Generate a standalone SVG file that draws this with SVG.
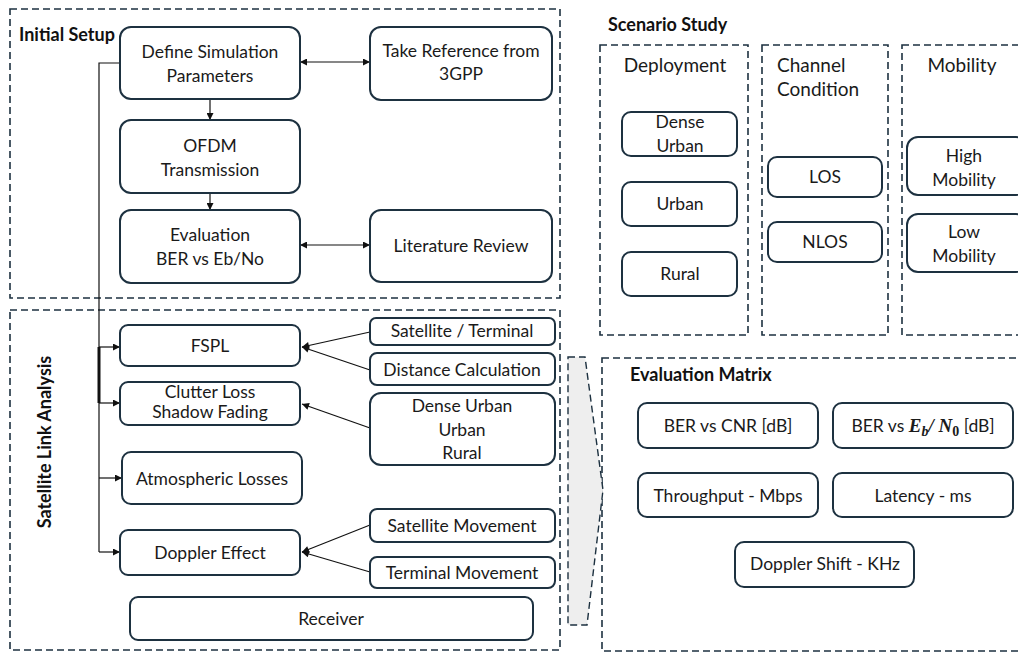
<svg xmlns="http://www.w3.org/2000/svg" width="1018" height="653" viewBox="0 0 1018 653">
<defs>
<style>
.bx{fill:#fff;stroke:#1d3140;stroke-width:2}
.dash{fill:none;stroke:#1d3140;stroke-width:1.6;stroke-dasharray:7 4}
.t{font-family:Lato,"Open Sans","Liberation Sans",sans-serif;font-size:17.5px;fill:#1a1a1a;text-anchor:middle}
.tl{font-family:Lato,"Open Sans","Liberation Sans",sans-serif;font-size:19px;fill:#1a1a1a}
.h{font-family:Lato,"Open Sans","Liberation Sans",sans-serif;font-size:18px;font-weight:bold;fill:#111}
.ln{fill:none;stroke:#111;stroke-width:1.2}
.m{font-family:"Liberation Serif",serif;font-weight:bold;font-style:italic}
</style>
<marker id="ah" viewBox="0 0 10 10" refX="10" refY="5" markerWidth="8" markerHeight="7" orient="auto-start-reverse" markerUnits="userSpaceOnUse"><path d="M0,0 L10,5 L0,10 z" fill="#111"/></marker>
</defs>
<rect width="1018" height="653" fill="#fff"/>

<g id="containers">
<rect class="dash" x="10" y="9" width="550" height="289"/>
<rect class="dash" x="10" y="310" width="550" height="340"/>
<rect class="dash" x="600" y="45" width="148" height="290"/>
<rect class="dash" x="762" y="45" width="126" height="290"/>
<rect class="dash" x="902" y="45" width="130" height="290"/>
<rect class="dash" x="602" y="358" width="430" height="293"/>
<polygon points="568,357 585,357 603,490 587,625 568,625" fill="#eeeeee" stroke="#1d3140" stroke-width="1.4" stroke-dasharray="7 4"/>
<text class="h" x="19" y="41">Initial Setup</text>
<text class="h" x="608" y="31">Scenario Study</text>
<text class="h" x="630" y="381">Evaluation Matrix</text>
<text class="h" transform="translate(51,442) rotate(-90)" text-anchor="middle">Satellite Link Analysis</text>
<text class="tl" x="675" y="72" text-anchor="middle">Deployment</text>
<text class="tl" x="777" y="72">Channel</text>
<text class="tl" x="777" y="96">Condition</text>
<text class="tl" x="962" y="72" text-anchor="middle">Mobility</text>
</g>

<g id="connectors">
<line class="ln" x1="300" y1="62" x2="370" y2="62" marker-start="url(#ah)" marker-end="url(#ah)"/>
<line class="ln" x1="300" y1="245" x2="370" y2="245" marker-start="url(#ah)" marker-end="url(#ah)"/>
<line class="ln" x1="210" y1="99" x2="210" y2="120" marker-end="url(#ah)"/>
<line class="ln" x1="210" y1="193" x2="210" y2="210" marker-end="url(#ah)"/>
<polyline class="ln" points="120,63 99,63 99,552"/>
<line x1="99" y1="347" x2="99" y2="403" stroke="#111" stroke-width="3"/>
<line class="ln" x1="99" y1="347" x2="120" y2="347" marker-end="url(#ah)"/>
<line class="ln" x1="99" y1="403" x2="120" y2="403" marker-end="url(#ah)"/>
<line class="ln" x1="99" y1="478" x2="122" y2="478" marker-end="url(#ah)"/>
<line class="ln" x1="99" y1="552" x2="120" y2="552" marker-end="url(#ah)"/>
<line class="ln" x1="370" y1="332" x2="302" y2="347" marker-end="url(#ah)"/>
<line class="ln" x1="370" y1="370" x2="302" y2="347" marker-end="url(#ah)"/>
<line class="ln" x1="370" y1="428" x2="302" y2="404" marker-end="url(#ah)"/>
<line class="ln" x1="370" y1="525" x2="302" y2="552" marker-end="url(#ah)"/>
<line class="ln" x1="370" y1="572" x2="302" y2="552" marker-end="url(#ah)"/>
</g>

<g id="n-define"><rect class="bx" x="120" y="27" width="180" height="72" rx="11"/><text class="t" x="210" y="58">Define Simulation</text><text class="t" x="210" y="82">Parameters</text></g>
<g id="n-3gpp"><rect class="bx" x="370" y="27" width="182" height="73" rx="11"/><text class="t" x="461" y="57" font-size="16">Take Reference from</text><text class="t" x="461" y="80" font-size="16">3GPP</text></g>
<g id="n-ofdm"><rect class="bx" x="120" y="120" width="180" height="73" rx="11"/><text class="t" x="210" y="152">OFDM</text><text class="t" x="210" y="176">Transmission</text></g>
<g id="n-eval"><rect class="bx" x="120" y="210" width="180" height="73" rx="11"/><text class="t" x="210" y="241" font-size="18.5">Evaluation</text><text class="t" x="210" y="265">BER vs Eb/No</text></g>
<g id="n-lit"><rect class="bx" x="370" y="210" width="182" height="72" rx="11"/><text class="t" x="461" y="252" font-size="16">Literature Review</text></g>

<g id="n-fspl"><rect class="bx" x="120" y="325" width="180" height="41" rx="8"/><text class="t" x="210" y="352">FSPL</text></g>
<g id="n-clutter"><rect class="bx" x="120" y="382" width="180" height="43" rx="8"/><text class="t" x="210" y="398">Clutter Loss</text><text class="t" x="210" y="418">Shadow Fading</text></g>
<g id="n-atmo"><rect class="bx" x="122" y="452" width="180" height="52" rx="9"/><text class="t" x="212" y="485">Atmospheric Losses</text></g>
<g id="n-doppler"><rect class="bx" x="120" y="530" width="180" height="45" rx="8"/><text class="t" x="210" y="559">Doppler Effect</text></g>
<g id="n-receiver"><rect class="bx" x="130" y="597" width="403" height="43" rx="8"/><text class="t" x="331" y="625">Receiver</text></g>

<g id="n-satterm"><rect class="bx" x="370" y="318" width="185" height="27" rx="6"/><text class="t" x="462" y="337">Satellite / Terminal</text></g>
<g id="n-dist"><rect class="bx" x="370" y="353" width="185" height="32" rx="7"/><text class="t" x="462" y="376">Distance Calculation</text></g>
<g id="n-env"><rect class="bx" x="370" y="393" width="185" height="72" rx="11"/><text class="t" x="462" y="412">Dense Urban</text><text class="t" x="462" y="436">Urban</text><text class="t" x="462" y="459">Rural</text></g>
<g id="n-satmov"><rect class="bx" x="370" y="509" width="185" height="33" rx="7"/><text class="t" x="462" y="532">Satellite Movement</text></g>
<g id="n-termmov"><rect class="bx" x="370" y="557" width="185" height="31" rx="7"/><text class="t" x="462" y="579">Terminal Movement</text></g>

<g id="n-dense"><rect class="bx" x="622" y="112" width="115" height="44" rx="9"/><text class="t" x="680" y="128">Dense</text><text class="t" x="680" y="152">Urban</text></g>
<g id="n-urban"><rect class="bx" x="622" y="182" width="115" height="44" rx="9"/><text class="t" x="680" y="210">Urban</text></g>
<g id="n-rural"><rect class="bx" x="622" y="252" width="115" height="44" rx="9"/><text class="t" x="680" y="280">Rural</text></g>
<g id="n-los"><rect class="bx" x="768" y="157" width="114" height="40" rx="9"/><text class="t" x="825" y="183">LOS</text></g>
<g id="n-nlos"><rect class="bx" x="768" y="222" width="114" height="40" rx="9"/><text class="t" x="825" y="248">NLOS</text></g>
<g id="n-high"><rect class="bx" x="907" y="137" width="120" height="58" rx="11"/><text class="t" x="964" y="162">High</text><text class="t" x="964" y="186">Mobility</text></g>
<g id="n-low"><rect class="bx" x="907" y="214" width="120" height="58" rx="11"/><text class="t" x="964" y="238">Low</text><text class="t" x="964" y="262">Mobility</text></g>

<g id="n-cnr"><rect class="bx" x="638" y="403" width="180" height="45" rx="9"/><text class="t" x="728" y="432">BER vs CNR [dB]</text></g>
<g id="n-ebno"><rect class="bx" x="833" y="403" width="180" height="45" rx="9"/><text class="t" x="923" y="432">BER vs <tspan class="m" font-size="19">E</tspan><tspan class="m" font-size="14" dy="4">b</tspan><tspan class="m" font-size="19" dy="-4">/ N</tspan><tspan font-family="Liberation Serif,serif" font-weight="bold" font-size="14" dy="4">0</tspan><tspan dy="-4"> [dB]</tspan></text></g>
<g id="n-thru"><rect class="bx" x="638" y="473" width="180" height="44" rx="9"/><text class="t" x="728" y="502">Throughput - Mbps</text></g>
<g id="n-lat"><rect class="bx" x="833" y="473" width="180" height="44" rx="9"/><text class="t" x="923" y="502">Latency - ms</text></g>
<g id="n-dshift"><rect class="bx" x="735" y="542" width="179" height="45" rx="9"/><text class="t" x="825" y="570">Doppler Shift - KHz</text></g>
</svg>
